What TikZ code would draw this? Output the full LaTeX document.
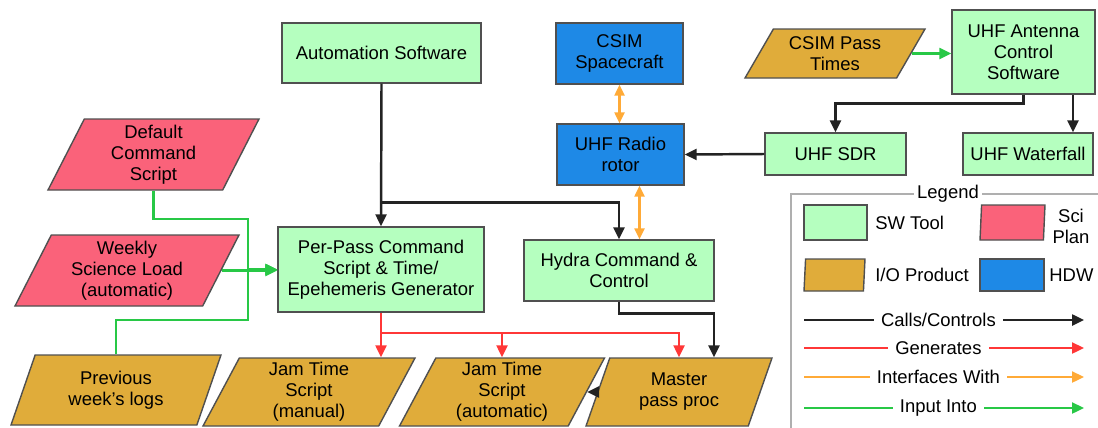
\documentclass[tikz,border=0pt]{standalone}
\usepackage{fontspec}
\setmainfont{Liberation Sans}
\usetikzlibrary{arrows.meta, positioning, shapes.geometric}
\definecolor{swgreen}{RGB}{181,255,191}
\definecolor{scired}{RGB}{250,98,122}
\definecolor{iogold}{RGB}{224,172,58}
\definecolor{hdwblue}{RGB}{30,137,230}
\definecolor{edge}{RGB}{80,80,80}
\definecolor{callcol}{RGB}{35,35,35}
\definecolor{gencol}{RGB}{255,55,55}
\definecolor{ifccol}{RGB}{255,170,55}
\definecolor{inpcol}{RGB}{40,200,70}
\definecolor{framecol}{RGB}{175,175,175}

\begin{document}
\begin{tikzpicture}[x=0.02cm, y=-0.02cm,
    font=\fontsize{10.5}{12}\selectfont,
    sw/.style={draw=edge, line width=0.8pt, fill=swgreen, align=center, inner sep=1pt},
    hdw/.style={sw, fill=hdwblue},
    iop/.style={trapezium, trapezium left angle=60, trapezium right angle=120,
      trapezium stretches body, draw=edge, line width=0.8pt, fill=iogold, align=center, inner sep=1pt},
    sci/.style={iop, fill=scired},
    calls/.style={arrows={-Triangle[length=2.4mm,width=2.2mm]}, line width=1.4pt, draw=callcol},
    gen/.style={calls, line width=1.3pt, draw=gencol},
    ifl/.style={calls, line width=1.3pt, draw=ifccol},
    ifc/.style={ifl, arrows={Triangle[length=2.2mm,width=2mm]-Triangle[length=2.2mm,width=2mm]}},
    inp/.style={calls, line width=1.3pt, draw=inpcol}]
  \useasboundingbox (0,0) rectangle (1098,427);
  \clip (0,0) rectangle (1098,427);
  % software tools
  \node[sw, minimum width=3.98cm, minimum height=1.2cm] (auto) at (381.5,53) {Automation Software};
  \node[sw, minimum width=4.12cm, minimum height=1.7cm] (perpass) at (381,269.5)
    {Per-Pass Command\\Script \& Time/\\Epehemeris Generator};
  \node[sw, minimum width=3.8cm, minimum height=1.22cm] (hydra) at (619,270.5) {Hydra Command \&\\Control};
  \node[sw, minimum width=2.86cm, minimum height=1.68cm] (antenna) at (1023.5,52) {UHF Antenna\\Control\\Software};
  \node[sw, minimum width=2.82cm, minimum height=0.84cm] (sdr) at (835.5,154) {UHF SDR};
  \node[sw, minimum width=2.6cm, minimum height=0.84cm] (waterfall) at (1028,154) {UHF Waterfall};
  % hardware
  \node[hdw, minimum width=2.54cm, minimum height=1.22cm] (csim) at (619.5,53.5) {CSIM\\Spacecraft};
  \node[hdw, minimum width=2.54cm, minimum height=1.22cm] (radio) at (620.5,154.5) {UHF Radio\\rotor};
  % science plan and i/o products
  \node[sci, minimum width=4.22cm, minimum height=1.42cm] (default) at (153.5,154.5) {Default\\Command\\Script};
  \node[sci, minimum width=4.48cm, minimum height=1.42cm] (weekly) at (127,270.5) {Weekly\\Science Load\\(automatic)};
  \node[iop, minimum width=4.2cm, minimum height=1.4cm] (prevlogs) at (116,390) {Previous\\week's logs};
  \node[iop, minimum width=4.24cm, minimum height=1.36cm] (jamman) at (309,392) {Jam Time\\Script\\(manual)};
  \node[iop, minimum width=4.1cm, minimum height=1.36cm] (jamauto) at (502,392) {Jam Time\\Script\\(automatic)};
  \node[iop, minimum width=3.72cm, minimum height=1.36cm] (master) at (679,392) {Master\\pass proc};
  \node[iop, trapezium left angle=53, trapezium right angle=127, minimum width=3.6cm, minimum height=0.98cm]
    (passtimes) at (835,53.5) {CSIM Pass\\Times};
  % calls / controls
  \draw[calls] (auto.south) -- (perpass.north);
  \path (auto.south) ++(0,119) coordinate (jc);
  \draw[calls] (jc) -| (hydra.north);
  \draw[calls] (sdr.west) -- (radio.east);
  \draw[calls] (antenna.south) -- ++(0,9) -| (sdr.north);
  \draw[calls] ([xshift=0.99cm]antenna.south) -- ([xshift=0.99cm]antenna.south |- waterfall.north);
  \draw[calls] (hydra.south) -- ++(0,12) -| ([xshift=0.7cm]master.north);
  \draw[calls] (master.west) -- (jamauto.east);
  % interfaces with
  \draw[ifc] (csim.south) -- (csim.south |- radio.north);
  \draw[ifc] ([xshift=0.38cm]radio.south) -- ([xshift=0.38cm]radio.south |- hydra.north);
  % generates
  \draw[gen] (perpass.south) -- (perpass.south |- jamman.north);
  \path (perpass.south) ++(0,20) coordinate (jr);
  \draw[gen] (jr) -| (jamauto.north);
  \draw[gen] (jr) -| (master.north);
  % input into
  \coordinate (jg) at ([xshift=-0.58cm]perpass.west);
  \draw[inp] (default.south) -- ++(0,28) -| (jg) -- (perpass.west);
  \draw[inp] (prevlogs.north) -- ++(0,-34) -| (jg) -- (perpass.west);
  \draw[inp] (weekly.east) -- (weekly.east -| perpass.west);
  \draw[inp] (passtimes.east) -- (passtimes.east -| antenna.west);
  % legend
  \draw[framecol, line width=0.8pt] (791,194) rectangle (1110,440);
  \node[fill=white, inner sep=2pt] (legend) at (948,194) {Legend};
  \node[sw, minimum width=1.26cm, minimum height=0.7cm] (lsw) at (835.5,222.5) {};
  \node[anchor=west, inner sep=0pt] (lswt) at (875,223) {SW Tool};
  \node[sci, trapezium left angle=66, trapezium right angle=114, minimum width=1.3cm, minimum height=0.7cm]
    (lsci) at (1012.5,222.5) {};
  \node[align=center, inner sep=0pt] (lscit) at (1071,226) {Sci\\Plan};
  \node[iop, trapezium left angle=66, trapezium right angle=114, minimum width=1.22cm, minimum height=0.64cm]
    (lio) at (834.5,275) {};
  \node[anchor=west, inner sep=0pt] (liot) at (875,275) {I/O Product};
  \node[hdw, minimum width=1.28cm, minimum height=0.64cm] (lhdw) at (1012,275) {};
  \node[anchor=west, inner sep=0pt] (lhdwt) at (1049,275) {HDW};
  \foreach \yy/\st/\tx [count=\i] in {320/calls/{Calls/Controls}, 348/gen/{Generates},
      377/ifl/{Interfaces With}, 408/inp/{Input Into}} {
    \coordinate (la\i) at (804,\yy);
    \coordinate (lb\i) at (1084,\yy);
    \draw[\st] (la\i) -- node[pos=0.48, fill=white, inner sep=4pt] (lt\i) {\tx} (lb\i);
  }
\end{tikzpicture}
\end{document}
